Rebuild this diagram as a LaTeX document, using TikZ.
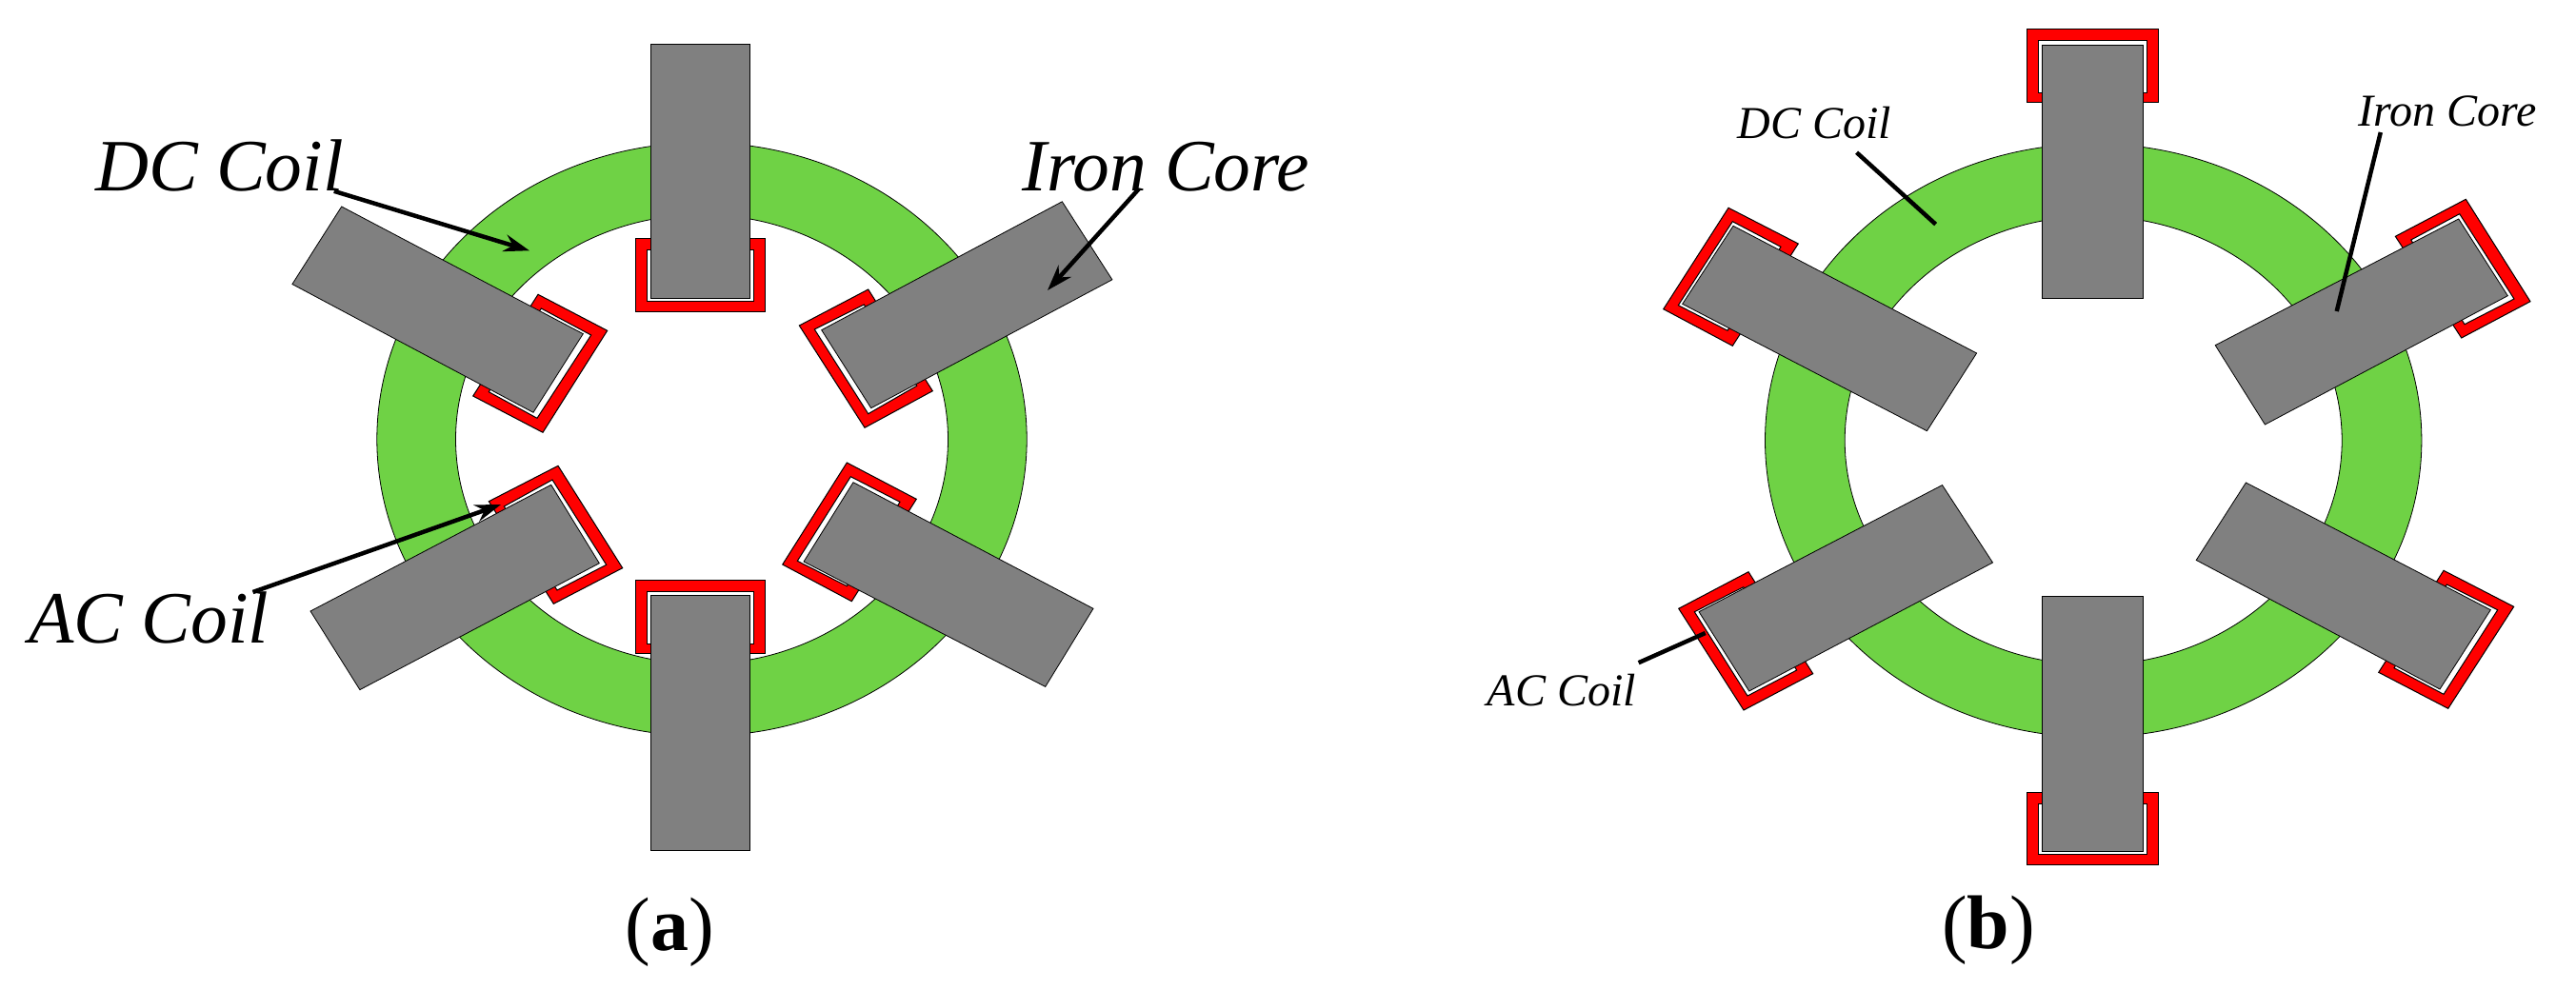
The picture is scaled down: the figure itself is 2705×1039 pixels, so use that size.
\documentclass[tikz,border=0pt]{standalone}
\usepackage{fontspec}
\setmainfont{Liberation Serif}
\usetikzlibrary{arrows.meta}
\tikzset{
  ringshape/.style={fill=ringgreen,draw=black,line width=0.8pt,even odd rule},
  coilouter/.style={fill=red,draw=black,line width=1pt},
  coilgap/.style={fill=white,draw=black,line width=1pt},
  ironbar/.style={fill=irongray,draw=black,line width=0.8pt},
  bigtext/.style={anchor=base west,inner sep=0pt,font=\fontsize{77.5}{80}\selectfont\itshape},
  smalltext/.style={anchor=base west,inner sep=0pt,font=\fontsize{48}{52}\selectfont\itshape},
  captiontext/.style={anchor=base,inner sep=0pt,font=\fontsize{80}{84}\selectfont},
  leadarrow/.style={line width=4.5pt,-{Stealth[length=27pt,width=18pt]}},
  leadline/.style={line width=4.5pt}
}
\definecolor{ringgreen}{RGB}{111,210,69}
\definecolor{irongray}{RGB}{128,128,128}
\begin{document}
\begin{tikzpicture}[x=1pt,y=-1pt]
\useasboundingbox (0,0) rectangle (2705,1039);
% ---------- panel (a) ----------
\path[ringshape] (737,461.5) ellipse (341.2 and 311.7) (737,461.5) ellipse (258.5 and 236);
% coils
\path[coilouter] (667.3,250.3) rectangle (803.3,327.3);
\path[coilgap] (679.7,262.3) rectangle (791.7,316);
\path[coilouter] (667.3,609) rectangle (803.3,686.7);
\path[coilgap] (679.7,621) rectangle (791.7,676);
\path[coilouter] (565,309.3) -- (637.7,347.3) -- (570,454.3) -- (496.7,416) -- cycle;
\path[coilgap] (568.3,324) -- (620.7,352) -- (564,439.3) -- (513.3,411.7) -- cycle;
\path[coilouter] (911.7,304) -- (839.3,342) -- (908,449.3) -- (979.3,410.7) -- cycle;
\path[coilgap] (907.3,320) -- (855.3,346) -- (911.7,434.7) -- (962.7,405.3) -- cycle;
\path[coilouter] (586,489.3) -- (653.7,596.7) -- (581.3,634.3) -- (513.3,526.7) -- cycle;
\path[coilgap] (580,504) -- (636.7,593.3) -- (585,620) -- (529.3,532) -- cycle;
\path[coilouter] (889.3,486) -- (962.3,524.3) -- (894.3,631.7) -- (821.7,593) -- cycle;
\path[coilgap] (893.3,500.7) -- (945,527.3) -- (889.3,615.7) -- (837.3,589.3) -- cycle;
% iron bars
\path[ironbar] (683.3,46) rectangle (787.7,313);
\path[ironbar] (683.3,625.5) rectangle (787.7,893.3);
\path[ironbar] (358.7,217) -- (612.3,350.7) -- (560,433.3) -- (306.9,298.5) -- cycle;
\path[ironbar] (1115.3,211.8) -- (1167.9,293.8) -- (914.7,428.7) -- (862.7,346.7) -- cycle;
\path[ironbar] (578.7,509.3) -- (629.3,591.7) -- (377.9,724.6) -- (326,642) -- cycle;
\path[ironbar] (896,506.7) -- (1148,639.3) -- (1097.7,721.4) -- (844,590) -- cycle;
% labels and leaders
\node[bigtext] (dca) at (100,200.5) {DC Coil};
\node[bigtext] (irona) at (1073,200.5) {Iron Core};
\node[bigtext] (aca) at (30,675) {AC Coil};
\coordinate (dcas) at (350.8,200.8);
\coordinate (dcat) at (556,263.3);
\coordinate (ironas) at (1195.8,198.5);
\coordinate (ironat) at (1100,305);
\coordinate (acas) at (265.5,622);
\coordinate (acat) at (526,530);
\draw[leadarrow] (dcas) -- (dcat);
\draw[leadarrow] (ironas) -- (ironat);
\draw[leadarrow] (acas) -- (acat);
\node[captiontext] (capa) at (703.5,998) {(\textbf{a})};
% ---------- panel (b) ----------
\path[ringshape] (2198.2,462.7) ellipse (344.7 and 311.7) (2198.2,462.7) ellipse (261 and 235.7);
% coils
\path[coilouter] (2128.3,30.3) rectangle (2266.3,107.7);
\path[coilgap] (2140.3,42.3) rectangle (2254.3,97.3);
\path[coilouter] (2128.3,832.6) rectangle (2266.3,908);
\path[coilgap] (2140.3,844.5) rectangle (2254.3,897.4);
\path[coilouter] (1815,218.3) -- (1888.3,256) -- (1819.3,363.3) -- (1746.7,324.7) -- cycle;
\path[coilgap] (1819.3,232.7) -- (1870,259.3) -- (1814,347.3) -- (1762.3,320.7) -- cycle;
\path[coilouter] (2589.3,209.3) -- (2657,316.7) -- (2584.7,355) -- (2515.3,248.3) -- cycle;
\path[coilgap] (2582.7,224.7) -- (2640,314) -- (2588,340.7) -- (2531.7,252) -- cycle;
\path[coilouter] (1836,600.7) -- (1762.7,639.3) -- (1831,746) -- (1903.7,707.7) -- cycle;
\path[coilgap] (1830.7,616.7) -- (1779.3,642.7) -- (1835,731) -- (1886.7,704) -- cycle;
\path[coilouter] (2566,599.3) -- (2639.7,637.3) -- (2570.7,744.3) -- (2497.7,706.3) -- cycle;
\path[coilgap] (2569.3,614) -- (2622.7,640.7) -- (2566,729.3) -- (2514,701.7) -- cycle;
% iron bars
\path[ironbar] (2144.3,47.3) rectangle (2250.3,313.5);
\path[ironbar] (2144.3,626) rectangle (2250.3,894);
\path[ironbar] (1820,237.3) -- (2075.6,371) -- (2023.4,452.7) -- (1766.7,319.3) -- cycle;
\path[ironbar] (2581.7,230) -- (2633.3,310.7) -- (2378.4,446) -- (2326.2,362.7) -- cycle;
\path[ironbar] (1784,642.7) -- (2039.5,509.6) -- (2092.5,591) -- (1836.7,726) -- cycle;
\path[ironbar] (2615.3,640.7) -- (2562,724) -- (2306.2,588.4) -- (2358.4,507) -- cycle;
% labels and leaders
\node[smalltext] (dcb) at (1824.3,145.6) {DC Coil};
\node[smalltext] (ironb) at (2476,132.4) {Iron Core};
\node[smalltext] (acb) at (1561.5,741.2) {AC Coil};
\coordinate (dcbs) at (1949.6,160.2);
\coordinate (dcbt) at (2032.6,235.6);
\coordinate (ironbs) at (2499.8,139);
\coordinate (ironbt) at (2453.7,327);
\coordinate (acbs) at (1720.6,696.2);
\coordinate (acbt) at (1790.7,665);
\draw[leadline] (dcbs) -- (dcbt);
\draw[leadline] (ironbs) -- (ironbt);
\draw[leadline] (acbs) -- (acbt);
\node[captiontext] (capb) at (2088,996) {(\textbf{b})};
\end{tikzpicture}
\end{document}
